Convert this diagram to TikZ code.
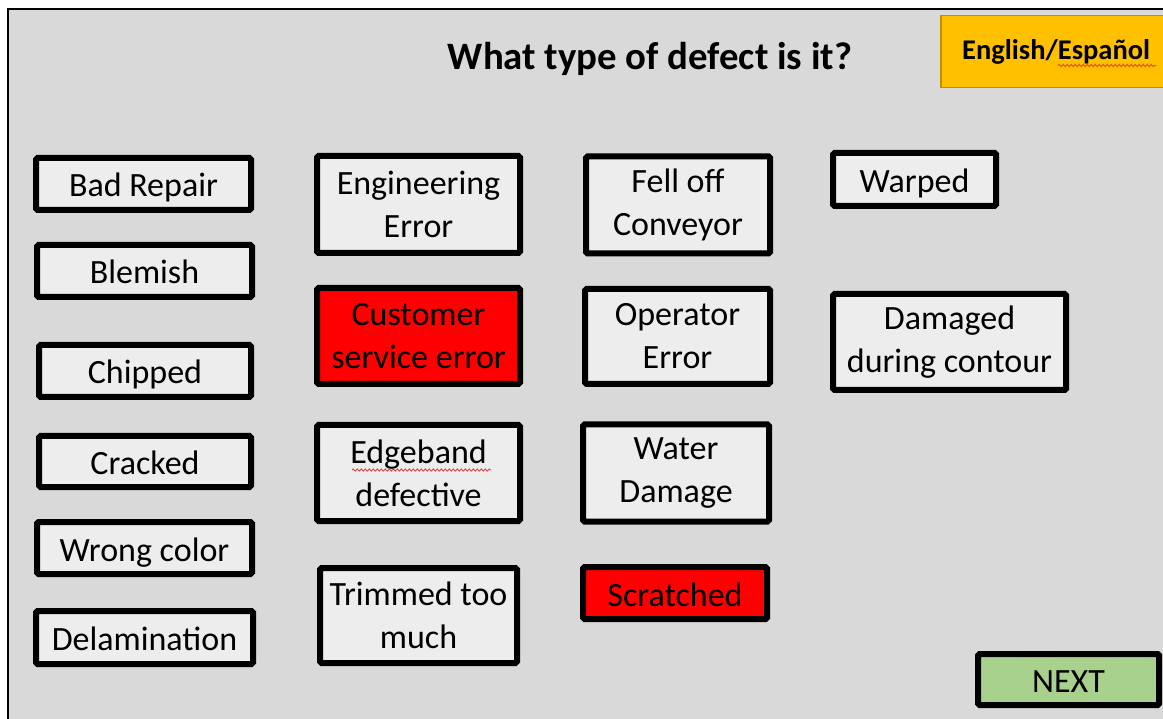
\documentclass[tikz,border=0pt]{standalone}
\usepackage{fontspec}
\setmainfont{Carlito}
\usetikzlibrary{decorations.pathmorphing}
\definecolor{panel}{HTML}{D9D9D9}
\definecolor{boxfill}{HTML}{EDEDED}
\definecolor{alert}{HTML}{FF0000}
\definecolor{langfill}{HTML}{FFC000}
\definecolor{langedge}{HTML}{BF9000}
\definecolor{nextfill}{HTML}{A9D18E}
\definecolor{squiggle}{HTML}{E8403A}
\tikzset{
  choice/.style={draw=black, line width=6pt, fill=boxfill, rounded corners=1.5pt,
    inner sep=0pt, align=center, font=\fontsize{34}{43}\selectfont},
  oneline/.style={text height=26pt, text depth=0pt},
  hot/.style={choice, fill=alert},
  spell/.style={draw=squiggle, line width=0.9pt,
    decorate, decoration={snake, amplitude=1.1pt, segment length=4pt}}
}
\begin{document}
\begin{tikzpicture}[x=1pt, y=-1pt]
  \useasboundingbox (0,0) rectangle (1163,719);
  \fill[white] (0,0) rectangle (1163,719);
  % screen panel with its left and top edges
  \fill[panel] (8,9) rectangle (1163,719);
  \draw[black, line width=2pt] (8,719) -- (8,9) -- (1163,9);

  \node[font=\bfseries\fontsize{38.8}{46}\selectfont] (title) at (650,59) {What type of defect is it?};

  % language switch
  \node[draw=langedge, line width=1.5pt, fill=langfill, minimum width=232, minimum height=72,
        inner sep=0pt, anchor=west] (lang) at (940,51.5) {};
  \node[font=\bfseries\fontsize{28.5}{34}\selectfont, anchor=base west, inner sep=0pt] (langtxt) at (962,60) {English/Espa\~nol};
  \coordinate (langA) at (1058,65.5);
  \coordinate (langB) at (1156,65.5);
  \draw[spell] (langA) -- (langB);

  % first column
  \node[choice, oneline, minimum width=215, minimum height=52] (bad) at (143.5,184) {Bad Repair};
  \node[choice, oneline, minimum width=215, minimum height=52] (blem) at (144.5,271) {Blemish};
  \node[choice, oneline, minimum width=212, minimum height=52] (chip) at (145,371) {Chipped};
  \node[choice, oneline, minimum width=212, minimum height=51] (crack) at (145,461.5) {Cracked};
  \node[choice, oneline, minimum width=215, minimum height=52] (color) at (144.5,548) {Wrong color};
  \node[choice, oneline, minimum width=217, minimum height=53] (delam) at (144.5,637.5) {Delamination};

  % second column
  \node[choice, minimum width=203, minimum height=97] (eng) at (418.5,204.5) {Engineering\\Error};
  \node[hot, minimum width=203, minimum height=96] (cust) at (418.5,336) {Customer\\service error};
  \node[choice, minimum width=203, minimum height=96] (edge) at (418.5,473) {Edgeband\\defective};
  \coordinate (edgeA) at (352,470);
  \coordinate (edgeB) at (491,470);
  \draw[spell] (edgeA) -- (edgeB);
  \node[choice, minimum width=197, minimum height=95] (trim) at (418.5,615.5) {Trimmed too\\much};

  % third column
  \node[choice, minimum width=184, minimum height=97] (fell) at (678,205) {Fell off\\Conveyor};
  \node[choice, minimum width=185, minimum height=95] (oper) at (677.5,336.5) {Operator\\Error};
  \node[choice, minimum width=186, minimum height=97] (water) at (676,473) {Water\\Damage};
  \node[hot, oneline, minimum width=184, minimum height=52] (scratch) at (675,593) {Scratched};

  % fourth column
  \node[choice, oneline, minimum width=163, minimum height=53] (warp) at (914.5,179.5) {Warped};
  \node[choice, minimum width=233, minimum height=96] (contour) at (949.5,342) {Damaged\\during contour};

  % navigation
  \node[choice, oneline, fill=nextfill, minimum width=181, minimum height=51] (next) at (1068.5,679.5) {NEXT};
\end{tikzpicture}
\end{document}
